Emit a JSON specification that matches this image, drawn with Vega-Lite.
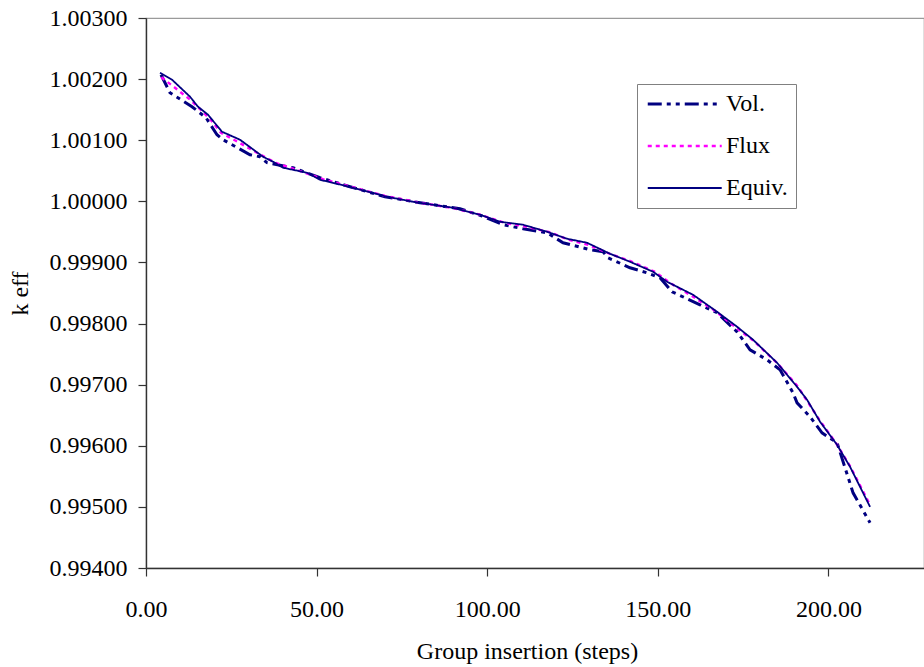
{
  "$schema": "https://vega.github.io/schema/vega-lite/v6.json",
  "width": 778,
  "height": 550,
  "autosize": {"type": "none"},
  "padding": {"left": 146, "top": 18, "right": 0, "bottom": 99},
  "background": "white",
  "config": {
    "font": "Liberation Serif",
    "view": {"stroke": "#9a9a9a", "strokeWidth": 1.2},
    "axis": {"grid": false, "labelFlush": false, "domainColor": "#333333", "domainWidth": 1.4, "tickColor": "#333333", "tickWidth": 1.2, "tickSize": 8, "labelFont": "Liberation Serif", "labelFontSize": 24, "labelColor": "#000000", "titleFont": "Liberation Serif", "titleFontSize": 24, "titleFontWeight": "normal", "titleColor": "#000000"}
  },
  "data": {
    "values": [
      {"x": 4.40, "k": 1.002072, "s": "Vol."},
      {"x": 7.03, "k": 1.001777, "s": "Vol."},
      {"x": 13.48, "k": 1.001548, "s": "Vol."},
      {"x": 14.65, "k": 1.001499, "s": "Vol."},
      {"x": 17.58, "k": 1.001368, "s": "Vol."},
      {"x": 20.81, "k": 1.001090, "s": "Vol."},
      {"x": 22.57, "k": 1.001008, "s": "Vol."},
      {"x": 30.48, "k": 1.000763, "s": "Vol."},
      {"x": 33.41, "k": 1.000730, "s": "Vol."},
      {"x": 35.46, "k": 1.000632, "s": "Vol."},
      {"x": 43.08, "k": 1.000550, "s": "Vol."},
      {"x": 51.00, "k": 1.000386, "s": "Vol."},
      {"x": 59.79, "k": 1.000239, "s": "Vol."},
      {"x": 70.05, "k": 1.000075, "s": "Vol."},
      {"x": 80.30, "k": 0.999977, "s": "Vol."},
      {"x": 92.03, "k": 0.999879, "s": "Vol."},
      {"x": 98.50, "k": 0.999760, "s": "Vol."},
      {"x": 104.63, "k": 0.999617, "s": "Vol."},
      {"x": 110.49, "k": 0.999551, "s": "Vol."},
      {"x": 117.53, "k": 0.999486, "s": "Vol."},
      {"x": 122.22, "k": 0.999322, "s": "Vol."},
      {"x": 130.13, "k": 0.999208, "s": "Vol."},
      {"x": 133.94, "k": 0.999175, "s": "Vol."},
      {"x": 135.40, "k": 0.999076, "s": "Vol."},
      {"x": 141.85, "k": 0.998913, "s": "Vol."},
      {"x": 146.83, "k": 0.998831, "s": "Vol."},
      {"x": 150.64, "k": 0.998749, "s": "Vol."},
      {"x": 154.16, "k": 0.998520, "s": "Vol."},
      {"x": 162.37, "k": 0.998307, "s": "Vol."},
      {"x": 167.35, "k": 0.998177, "s": "Vol."},
      {"x": 173.21, "k": 0.997865, "s": "Vol."},
      {"x": 177.02, "k": 0.997571, "s": "Vol."},
      {"x": 182.00, "k": 0.997407, "s": "Vol."},
      {"x": 185.82, "k": 0.997243, "s": "Vol."},
      {"x": 189.62, "k": 0.996867, "s": "Vol."},
      {"x": 190.80, "k": 0.996703, "s": "Vol."},
      {"x": 194.61, "k": 0.996474, "s": "Vol."},
      {"x": 198.12, "k": 0.996212, "s": "Vol."},
      {"x": 202.52, "k": 0.996049, "s": "Vol."},
      {"x": 207.21, "k": 0.995230, "s": "Vol."},
      {"x": 212.19, "k": 0.994740, "s": "Vol."},
      {"x": 4.5, "k": 1.00203, "s": "Flux"},
      {"x": 8.0, "k": 1.00188, "s": "Flux"},
      {"x": 13.0, "k": 1.00166, "s": "Flux"},
      {"x": 16.0, "k": 1.00150, "s": "Flux"},
      {"x": 19.0, "k": 1.00133, "s": "Flux"},
      {"x": 22.0, "k": 1.00112, "s": "Flux"},
      {"x": 27.0, "k": 1.00097, "s": "Flux"},
      {"x": 33.0, "k": 1.00078, "s": "Flux"},
      {"x": 38.0, "k": 1.00063, "s": "Flux"},
      {"x": 45.0, "k": 1.00050, "s": "Flux"},
      {"x": 52.0, "k": 1.00036, "s": "Flux"},
      {"x": 60.0, "k": 1.00024, "s": "Flux"},
      {"x": 70.0, "k": 1.00009, "s": "Flux"},
      {"x": 80.0, "k": 0.99998, "s": "Flux"},
      {"x": 90.0, "k": 0.99989, "s": "Flux"},
      {"x": 98.0, "k": 0.99978, "s": "Flux"},
      {"x": 105.0, "k": 0.99965, "s": "Flux"},
      {"x": 111.0, "k": 0.99959, "s": "Flux"},
      {"x": 118.0, "k": 0.99950, "s": "Flux"},
      {"x": 124.0, "k": 0.99937, "s": "Flux"},
      {"x": 130.0, "k": 0.99928, "s": "Flux"},
      {"x": 136.0, "k": 0.99914, "s": "Flux"},
      {"x": 142.0, "k": 0.99902, "s": "Flux"},
      {"x": 149.0, "k": 0.99885, "s": "Flux"},
      {"x": 154.0, "k": 0.99865, "s": "Flux"},
      {"x": 160.0, "k": 0.99845, "s": "Flux"},
      {"x": 167.0, "k": 0.99820, "s": "Flux"},
      {"x": 173.0, "k": 0.99793, "s": "Flux"},
      {"x": 178.0, "k": 0.99772, "s": "Flux"},
      {"x": 185.0, "k": 0.99735, "s": "Flux"},
      {"x": 191.0, "k": 0.99697, "s": "Flux"},
      {"x": 197.5, "k": 0.99641, "s": "Flux"},
      {"x": 202.5, "k": 0.99602, "s": "Flux"},
      {"x": 206.5, "k": 0.99565, "s": "Flux"},
      {"x": 212.2, "k": 0.99503, "s": "Flux"},
      {"x": 4.10, "k": 1.002105, "s": "Equiv."},
      {"x": 7.62, "k": 1.001990, "s": "Equiv."},
      {"x": 12.90, "k": 1.001712, "s": "Equiv."},
      {"x": 15.24, "k": 1.001548, "s": "Equiv."},
      {"x": 18.17, "k": 1.001417, "s": "Equiv."},
      {"x": 22.27, "k": 1.001139, "s": "Equiv."},
      {"x": 27.55, "k": 1.001008, "s": "Equiv."},
      {"x": 34.29, "k": 1.000730, "s": "Equiv."},
      {"x": 37.22, "k": 1.000648, "s": "Equiv."},
      {"x": 40.15, "k": 1.000550, "s": "Equiv."},
      {"x": 47.19, "k": 1.000468, "s": "Equiv."},
      {"x": 51.00, "k": 1.000353, "s": "Equiv."},
      {"x": 60.67, "k": 1.000223, "s": "Equiv."},
      {"x": 70.63, "k": 1.000075, "s": "Equiv."},
      {"x": 78.25, "k": 0.999993, "s": "Equiv."},
      {"x": 89.98, "k": 0.999895, "s": "Equiv."},
      {"x": 97.89, "k": 0.999781, "s": "Equiv."},
      {"x": 103.75, "k": 0.999666, "s": "Equiv."},
      {"x": 110.49, "k": 0.999617, "s": "Equiv."},
      {"x": 117.53, "k": 0.999502, "s": "Equiv."},
      {"x": 123.39, "k": 0.999388, "s": "Equiv."},
      {"x": 129.25, "k": 0.999322, "s": "Equiv."},
      {"x": 135.99, "k": 0.999142, "s": "Equiv."},
      {"x": 141.85, "k": 0.999011, "s": "Equiv."},
      {"x": 148.59, "k": 0.998848, "s": "Equiv."},
      {"x": 152.70, "k": 0.998684, "s": "Equiv."},
      {"x": 160.32, "k": 0.998471, "s": "Equiv."},
      {"x": 167.35, "k": 0.998193, "s": "Equiv."},
      {"x": 173.21, "k": 0.997948, "s": "Equiv."},
      {"x": 177.90, "k": 0.997735, "s": "Equiv."},
      {"x": 184.94, "k": 0.997358, "s": "Equiv."},
      {"x": 190.80, "k": 0.996965, "s": "Equiv."},
      {"x": 193.73, "k": 0.996753, "s": "Equiv."},
      {"x": 197.54, "k": 0.996393, "s": "Equiv."},
      {"x": 202.52, "k": 0.996016, "s": "Equiv."},
      {"x": 206.33, "k": 0.995656, "s": "Equiv."},
      {"x": 212.19, "k": 0.995001, "s": "Equiv."}
    ]
  },
  "mark": {"type": "line", "clip": true},
  "encoding": {
    "x": {
      "field": "x", "type": "quantitative",
      "scale": {"domain": [0, 228], "nice": false, "zero": false},
      "axis": {"values": [0, 50, 100, 150, 200], "format": ".2f", "labelPadding": 21, "title": "Group insertion (steps)", "titleX": 381, "titleY": 90, "titleBaseline": "alphabetic", "titleAnchor": null}
    },
    "y": {
      "field": "k", "type": "quantitative",
      "scale": {"domain": [0.994, 1.003], "nice": false, "zero": false},
      "axis": {"values": [0.994, 0.995, 0.996, 0.997, 0.998, 0.999, 1.0, 1.001, 1.002, 1.003], "format": ".5f", "labelPadding": 11, "title": "k eff", "titleX": -126, "titleY": 275, "titleAngle": -90, "titleAlign": "center", "titleBaseline": "middle"}
    },
    "color": {
      "field": "s", "type": "nominal",
      "scale": {"domain": ["Vol.", "Flux", "Equiv."], "range": ["#000080", "#FF00FF", "#000080"]},
      "legend": {
        "title": null, "orient": "none", "legendX": 491, "legendY": 66,
        "padding": 8, "strokeColor": "#808080", "fillColor": "white",
        "symbolType": "M-1,0H7", "symbolSize": 342, "labelOffset": 57,
        "labelFont": "Liberation Serif", "labelFontSize": 24, "labelColor": "#000000",
        "rowPadding": 18, "labelLimit": 300
      }
    },
    "strokeDash": {
      "field": "s", "type": "nominal",
      "scale": {"domain": ["Vol.", "Flux", "Equiv."], "range": [[14, 5, 4, 5, 4, 5], [4, 4], [1, 0]]},
      "legend": {
        "title": null, "orient": "none", "legendX": 491, "legendY": 66,
        "padding": 8, "strokeColor": "#808080", "fillColor": "white",
        "symbolType": "M-1,0H7", "symbolSize": 342, "labelOffset": 57,
        "labelFont": "Liberation Serif", "labelFontSize": 24, "labelColor": "#000000",
        "rowPadding": 18, "labelLimit": 300
      }
    },
    "strokeWidth": {
      "field": "s", "type": "nominal",
      "scale": {"domain": ["Vol.", "Flux", "Equiv."], "range": [3, 1.8, 1.8]},
      "legend": {
        "title": null, "orient": "none", "legendX": 491, "legendY": 66,
        "padding": 8, "strokeColor": "#808080", "fillColor": "white",
        "symbolType": "M-1,0H7", "symbolSize": 342, "labelOffset": 57,
        "labelFont": "Liberation Serif", "labelFontSize": 24, "labelColor": "#000000",
        "rowPadding": 18, "labelLimit": 300
      }
    }
  }
}
